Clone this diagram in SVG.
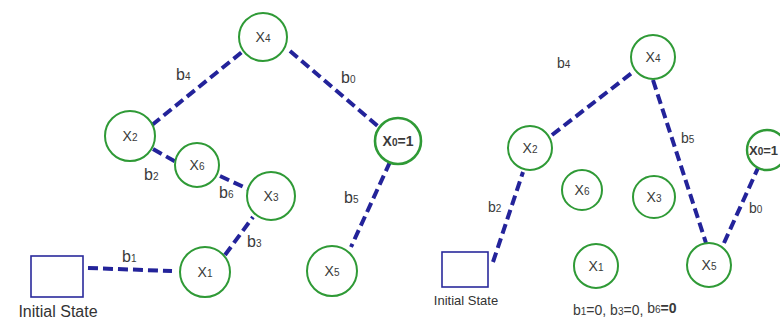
<svg xmlns="http://www.w3.org/2000/svg" width="780" height="322" viewBox="0 0 780 322">
<style>
.n{fill:none;stroke:#2f9a36;stroke-width:2}
.t{font-family:"Liberation Sans",Arial,sans-serif;font-size:14px;fill:#3a3a3a;text-anchor:middle}
.s{font-size:10px}
.e{stroke:#23239a;stroke-width:4;stroke-dasharray:10 5;fill:none}
.l{font-family:"Liberation Sans",Arial,sans-serif;font-size:16px;fill:#3a3a3a}
.box{fill:#fff;stroke:#2a2a9c;stroke-width:1.6}
.cap{font-family:"Liberation Sans",Arial,sans-serif;fill:#333;text-anchor:middle}
</style>
<rect width="780" height="322" fill="#fff"/>
<g id="connectors">
<line class="e" x1="88" y1="268" x2="172" y2="271"/>
<line class="e" x1="225" y1="255" x2="253" y2="217"/>
<line class="e" x1="153" y1="149" x2="176" y2="162"/>
<line class="e" x1="220" y1="176" x2="248" y2="189"/>
<line class="e" x1="152" y1="125" x2="242" y2="52"/>
<line class="e" x1="290" y1="51" x2="380" y2="128"/>
<line class="e" x1="390" y1="162" x2="351" y2="247"/>
<line class="e" x1="493" y1="262" x2="523" y2="172"/>
<line class="e" x1="552" y1="135" x2="633" y2="72"/>
<line class="e" x1="653" y1="80" x2="706" y2="243"/>
<line class="e" x1="724" y1="243" x2="758" y2="168"/>
</g>
<g id="edge-labels">
<text class="l" x="176" y="80">b<tspan class="s">4</tspan></text>
<text class="l" x="341" y="83">b<tspan class="s">0</tspan></text>
<text class="l" x="144" y="180">b<tspan class="s">2</tspan></text>
<text class="l" x="219" y="198">b<tspan class="s">6</tspan></text>
<text class="l" x="247" y="247">b<tspan class="s">3</tspan></text>
<text class="l" x="122" y="262">b<tspan class="s">1</tspan></text>
<text class="l" x="344" y="203">b<tspan class="s">5</tspan></text>
<text class="l" x="557" y="68" style="font-size:14px">b<tspan class="s">4</tspan></text>
<text class="l" x="681" y="143" style="font-size:14px">b<tspan class="s">5</tspan></text>
<text class="l" x="488" y="212" style="font-size:14px">b<tspan class="s">2</tspan></text>
<text class="l" x="749" y="213" style="font-size:14px">b<tspan class="s">0</tspan></text>
<text class="l" x="573" y="315" style="font-size:14px">b<tspan class="s">1</tspan>=0, b<tspan class="s">3</tspan>=0, <tspan dy="-2">b</tspan><tspan class="s">6</tspan><tspan style="font-weight:bold">=0</tspan></text>
</g>
<g id="L-init"><rect class="box" x="31" y="256" width="52" height="41"/><text class="cap" x="58" y="317" style="font-size:16px">Initial State</text></g>
<g id="L-x4"><circle class="n" cx="263" cy="37" r="24"/><text class="t" x="263" y="42">X<tspan class="s">4</tspan></text></g>
<g id="L-x2"><circle class="n" cx="130" cy="136" r="25"/><text class="t" x="130" y="141">X<tspan class="s">2</tspan></text></g>
<g id="L-x6"><circle class="n" cx="197" cy="165" r="22"/><text class="t" x="197" y="170">X<tspan class="s">6</tspan></text></g>
<g id="L-x3"><circle class="n" cx="271" cy="196" r="24"/><text class="t" x="271" y="201">X<tspan class="s">3</tspan></text></g>
<g id="L-x1"><circle class="n" cx="205" cy="272" r="25"/><text class="t" x="205" y="277">X<tspan class="s">1</tspan></text></g>
<g id="L-x5"><circle class="n" cx="332" cy="271" r="25"/><text class="t" x="332" y="276">X<tspan class="s">5</tspan></text></g>
<g id="L-x0"><circle class="n" cx="398" cy="141" r="23" style="stroke-width:2.6"/><text class="t" x="398" y="146" style="font-weight:bold">X<tspan class="s">0</tspan>=1</text></g>
<g id="R-init"><rect class="box" x="442" y="252" width="46" height="35"/><text class="cap" x="466" y="305" style="font-size:13px">Initial State</text></g>
<g id="R-x4"><circle class="n" cx="653" cy="57" r="22"/><text class="t" x="653" y="62">X<tspan class="s">4</tspan></text></g>
<g id="R-x2"><circle class="n" cx="530" cy="148" r="22"/><text class="t" x="530" y="153">X<tspan class="s">2</tspan></text></g>
<g id="R-x6"><circle class="n" cx="582" cy="190" r="20"/><text class="t" x="582" y="195">X<tspan class="s">6</tspan></text></g>
<g id="R-x3"><circle class="n" cx="654" cy="197" r="21"/><text class="t" x="654" y="202">X<tspan class="s">3</tspan></text></g>
<g id="R-x1"><circle class="n" cx="596" cy="266" r="22"/><text class="t" x="596" y="271">X<tspan class="s">1</tspan></text></g>
<g id="R-x5"><circle class="n" cx="709" cy="265" r="22"/><text class="t" x="709" y="270">X<tspan class="s">5</tspan></text></g>
<g id="R-x0"><circle class="n" cx="767" cy="150" r="20" style="stroke-width:2.4"/><text class="t" x="749" y="155" style="text-anchor:start;font-weight:bold;font-size:13px">X<tspan class="s">0</tspan>=1</text></g>
</svg>
